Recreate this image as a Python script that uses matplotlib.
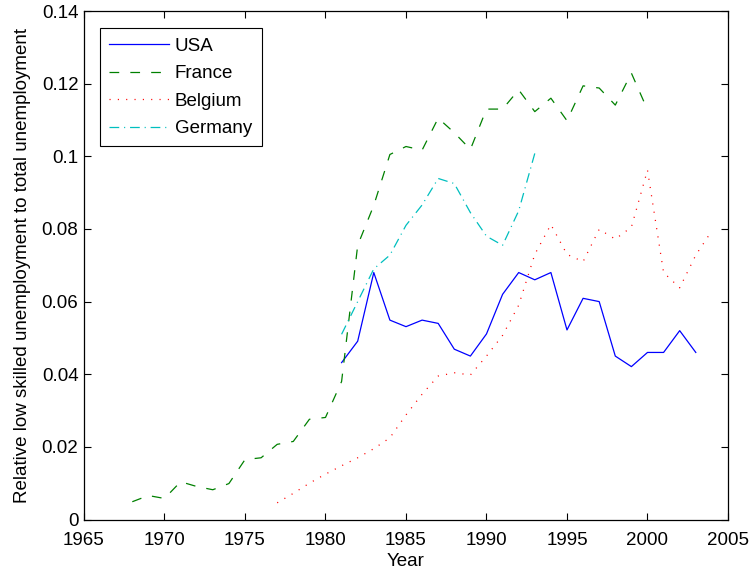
#!/usr/bin/env python3
"""Relative low skilled unemployment, four countries."""

import matplotlib
matplotlib.use('Agg')
import matplotlib.pyplot as plt

# data
france_years = list(range(1968, 2001))
france = [0.0049, 0.0066, 0.0058, 0.0104, 0.0091, 0.0082, 0.0099, 0.0165,
          0.0170, 0.0207, 0.0215, 0.0276, 0.0281, 0.0380, 0.0755, 0.0865,
          0.1005, 0.1027, 0.1017, 0.1105, 0.1065, 0.1019, 0.1130, 0.1130,
          0.1183, 0.1123, 0.1160, 0.1098, 0.1194, 0.1188, 0.1141, 0.1229,
          0.1128]

usa_years = list(range(1981, 2004))
usa = [0.0432, 0.0491, 0.0680, 0.0549, 0.0531, 0.0549, 0.0540, 0.0469,
       0.0450, 0.0511, 0.0620, 0.0680, 0.0660, 0.0680, 0.0522, 0.0609,
       0.0600, 0.0450, 0.0421, 0.0460, 0.0460, 0.0520, 0.0460]

belgium_years = list(range(1977, 2005))
belgium = [0.0046, 0.0072, 0.0100, 0.0125, 0.0148, 0.0170, 0.0195, 0.0225,
           0.0288, 0.0345, 0.0395, 0.0404, 0.0398, 0.0450, 0.0507, 0.0590,
           0.0730, 0.0812, 0.0730, 0.0710, 0.0799, 0.0772, 0.0805, 0.0962,
           0.0680, 0.0638, 0.0728, 0.0795]

germany_years = list(range(1981, 1994))
germany = [0.0510, 0.0600, 0.0690, 0.0728, 0.0810, 0.0866, 0.0939, 0.0925,
           0.0845, 0.0780, 0.0755, 0.0850, 0.1008]

x_ticks = [1965, 1970, 1975, 1980, 1985, 1990, 1995, 2000, 2005]
y_ticks = [0, 0.02, 0.04, 0.06, 0.08, 0.1, 0.12, 0.14]
y_tick_labels = ['0', '0.02', '0.04', '0.06', '0.08', '0.1', '0.12', '0.14']

plt.rcParams['font.family'] = ['Liberation Sans', 'DejaVu Sans']
plt.rcParams['font.size'] = 13.5
plt.rcParams['lines.scale_dashes'] = False

fig = plt.figure(figsize=(7.54, 5.74), dpi=100)
ax = fig.add_axes([0.1114, 0.0949, 0.8541, 0.8859])

lw = 0.9
ax.plot(usa_years, usa, color='#0000ff', lw=lw, label='USA')
ax.plot(france_years, france, color='#008000', lw=lw, dashes=(7, 8),
        label='France')
ax.plot(belgium_years, belgium, color='#ff0000', lw=lw, dashes=(0.8, 5.2),
        label='Belgium')
ax.plot(germany_years, germany, color='#00bfbf', lw=lw,
        dashes=(7, 3.5, 0.8, 3.5), label='Germany')

ax.set_xlim(1965, 2005)
ax.set_ylim(0, 0.14)
ax.set_xticks(x_ticks)
ax.set_yticks(y_ticks)
ax.set_yticklabels(y_tick_labels)
ax.tick_params(direction='in', length=5, width=0.8, top=True, right=True,
               pad=4)
ax.tick_params(axis='x', pad=9)
for s in ax.spines.values():
    s.set_linewidth(0.9)

ax.set_xlabel('Year', labelpad=3)
ax.set_ylabel('Relative low skilled unemployment to total unemployment',
              labelpad=8)

leg = ax.legend(loc='upper left', bbox_to_anchor=(0.0248, 0.966),
                borderaxespad=0, fancybox=False, edgecolor='black',
                framealpha=1, handlelength=3.2, handletextpad=0.3,
                labelspacing=0.55, borderpad=0.5)
leg.get_frame().set_linewidth(0.8)

fig.savefig('out.png', dpi=100)
